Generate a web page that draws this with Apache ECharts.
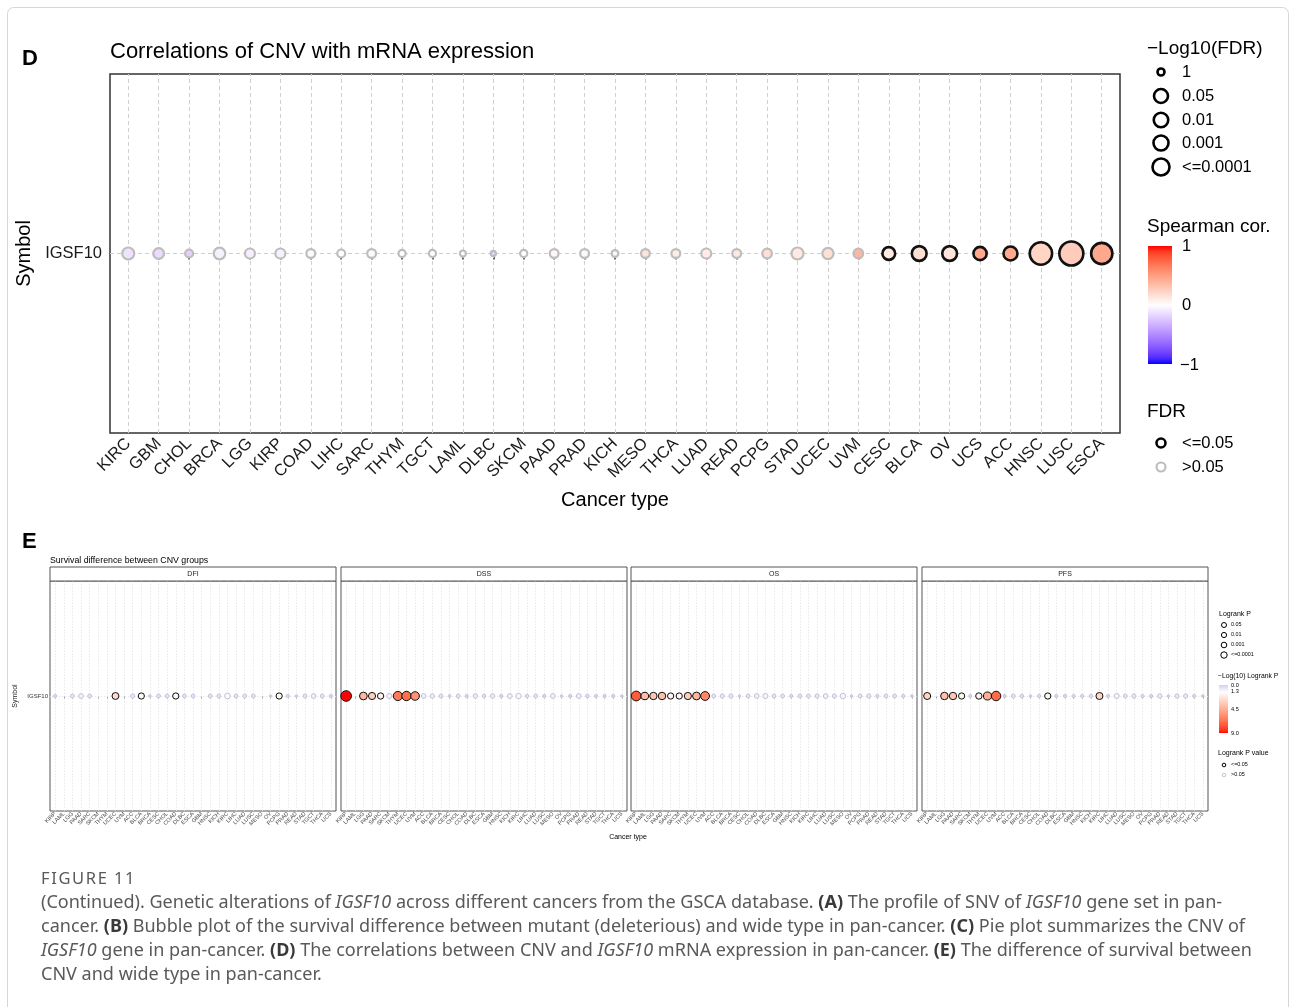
<!DOCTYPE html>
<html>
<head>
<meta charset="utf-8">
<script src="https://cdn.jsdelivr.net/npm/echarts@6/dist/echarts.min.js"></script>
<style>
  html, body { margin: 0; padding: 0; background: #fff; }
  #chart { width: 1296px; height: 1007px; }
</style>
</head>
<body>
<div id="chart"></div>
<script>
// ---------- Panel D: correlation of CNV with mRNA expression ----------
const corrCancers = ['KIRC','GBM','CHOL','BRCA','LGG','KIRP','COAD','LIHC','SARC','THYM','TGCT','LAML','DLBC','SKCM','PAAD','PRAD','KICH','MESO','THCA','LUAD','READ','PCPG','STAD','UCEC','UVM','CESC','BLCA','OV','UCS','ACC','HNSC','LUSC','ESCA'];
const spearmanCor = [-0.12,-0.15,-0.20,-0.06,-0.07,-0.06,-0.02,0.00,-0.02,0.00,0.01,0.00,-0.18,0.00,0.05,0.03,0.04,0.15,0.10,0.10,0.12,0.17,0.11,0.16,0.38,0.11,0.17,0.14,0.45,0.45,0.22,0.27,0.45];
const negLog10Fdr = [1.25,1.10,0.75,1.20,1.00,1.00,0.85,0.75,0.85,0.65,0.65,0.50,0.40,0.65,0.85,0.85,0.60,0.85,0.85,1.00,0.85,0.95,1.25,1.15,0.95,1.35,1.60,1.60,1.40,1.50,2.55,2.75,2.40];
const symbols = ['IGSF10'];
const fdrLegendLabels = ['1','0.05','0.01','0.001','<=0.0001'];

// ---------- Panel E: survival difference between CNV groups ----------
const survCancers = ['KIRP','LAML','LGG','PAAD','SARC','SKCM','THYM','UCEC','UVM','ACC','BLCA','BRCA','CESC','CHOL','COAD','DLBC','ESCA','GBM','HNSC','KICH','KIRC','LIHC','LUAD','LUSC','MESO','OV','PCPG','PRAD','READ','STAD','TGCT','THCA','UCS'];
const survFacets = ['DFI','DSS','OS','PFS'];
// -log10(logrank P); null where the cancer type has no data
const logrankDFI = [0.35,null,0.6,0.9,0.6,null,null,2.8,null,0.7,1.6,0.2,0.6,0.6,1.7,0.6,0.6,null,0.6,0.6,1.2,0.6,0.6,0.6,null,0.15,1.6,0.4,0.15,0.6,0.9,0.6,0.35];
const logrankDSS = [9.0,null,4.2,3.2,1.8,1.0,6.5,6.8,5.6,0.9,0.8,0.6,0.25,0.6,0.3,0.8,0.5,0.8,0.3,0.9,1.1,0.5,0.6,0.3,0.9,0.2,0.3,0.9,0.5,0.3,0.3,0.3,0.15];
const logrankOS  = [7.5,4.0,3.6,3.8,1.7,1.6,3.3,4.3,6.0,0.6,0.7,0.7,0.15,0.6,0.9,1.0,0.6,0.6,0.3,0.6,0.6,0.7,0.9,0.7,1.1,0.15,0.6,0.7,0.4,0.6,0.6,0.4,0.2];
const logrankPFS = [3.0,null,3.8,3.6,1.7,0.3,1.9,4.6,7.0,0.3,0.6,0.5,0.2,0.4,1.7,0.35,0.4,0.4,0.4,0.5,3.0,0.3,1.0,0.6,0.7,0.4,0.3,0.8,0.2,0.7,0.7,0.4,0.2];
const logrankBySurv = [logrankDFI, logrankDSS, logrankOS, logrankPFS];
const logrankLegendLabels = ['0.05','0.01','0.001','<=0.0001'];
const logrankBarTicks = [0, 1.3, 4.5, 9];

// ---------- colour scales interpolated in CIE Lab ----------
const WN = [0.95047, 1, 1.08883];
function toLin(c) { c /= 255; return c <= 0.04045 ? c / 12.92 : Math.pow((c + 0.055) / 1.055, 2.4); }
function toGam(c) { const v = c <= 0.0031308 ? 12.92 * c : 1.055 * Math.pow(c, 1 / 2.4) - 0.055; return Math.round(Math.max(0, Math.min(1, v)) * 255); }
function hexToLab(hex) {
  const n = parseInt(hex.slice(1), 16);
  const r = toLin(n >> 16 & 255), g = toLin(n >> 8 & 255), b = toLin(n & 255);
  const X = (0.4124564 * r + 0.3575761 * g + 0.1804375 * b) / WN[0];
  const Y = (0.2126729 * r + 0.7151522 * g + 0.0721750 * b) / WN[1];
  const Z = (0.0193339 * r + 0.1191920 * g + 0.9503041 * b) / WN[2];
  const f = t => t > 0.008856 ? Math.cbrt(t) : 7.787 * t + 16 / 116;
  const fx = f(X), fy = f(Y), fz = f(Z);
  return [116 * fy - 16, 500 * (fx - fy), 200 * (fy - fz)];
}
function labToHex(L, a, bb) {
  const fy = (L + 16) / 116, fx = fy + a / 500, fz = fy - bb / 200;
  const inv = t => t * t * t > 0.008856 ? t * t * t : (t - 16 / 116) / 7.787;
  const X = WN[0] * inv(fx), Y = WN[1] * inv(fy), Z = WN[2] * inv(fz);
  const r = 3.2404542 * X - 1.5371385 * Y - 0.4985314 * Z;
  const g = -0.9692660 * X + 1.8760108 * Y + 0.0415560 * Z;
  const b = 0.0556434 * X - 0.2040259 * Y + 1.0572252 * Z;
  return 'rgb(' + toGam(r) + ',' + toGam(g) + ',' + toGam(b) + ')';
}
function labScale(stops) {
  const labs = stops.map(s => [s[0], hexToLab(s[1])]);
  return function (v) {
    v = Math.max(labs[0][0], Math.min(labs[labs.length - 1][0], v));
    for (let k = 0; k < labs.length - 1; k++) {
      const [v0, c0] = labs[k], [v1, c1] = labs[k + 1];
      if (v <= v1) {
        const t = (v - v0) / (v1 - v0);
        return labToHex(c0[0] + (c1[0] - c0[0]) * t, c0[1] + (c1[1] - c0[1]) * t, c0[2] + (c1[2] - c0[2]) * t);
      }
    }
  };
}
const corColour = labScale([[-1, '#0000FF'], [0, '#FFFFFF'], [1, '#FF0000']]);
const logrankColour = labScale([[0, '#D4CCF0'], [1.3, '#FFFFFF'], [9, '#FF0000']]);

// symbol diameters
const corSize = x => 2 + 8 * x;
const logrankSize = x => 2 + 3.1 * Math.min(x, 1.3) + 0.6 * Math.max(x - 1.3, 0);

const AX_FONT = 'Liberation Sans';
const CAP_FONT = 'Noto Sans';
const SIG = -Math.log10(0.05);

// ---------- layout ----------
const gridD = { left: 110, top: 74, width: 1010, height: 359 };
const facetTop = 581, facetH = 230, facetW = 286;
const facetLeft = [50, 341, 631, 922];

const idxD = corrCancers.map((c, i) => i);
const idxE = survCancers.map((c, i) => i);

const grids = [Object.assign({ show: true, borderColor: '#333', borderWidth: 1.5, backgroundColor: '#fff', containLabel: false, outerBoundsMode: 'none' }, gridD)];
facetLeft.forEach(l => grids.push({ left: l, top: facetTop, width: facetW, height: facetH, show: true, borderColor: '#555', borderWidth: 1, backgroundColor: '#fff', containLabel: false, outerBoundsMode: 'none' }));

const xAxes = [{
  gridIndex: 0, type: 'value', min: -0.6, max: corrCancers.length - 0.4,
  axisLine: { show: false }, splitLine: { show: false },
  axisTick: { show: true, customValues: idxD, length: 6, lineStyle: { color: '#333', width: 1.5 } },
  axisLabel: { customValues: idxD, formatter: v => corrCancers[Math.round(v)], rotate: 45, fontSize: 16.5, fontFamily: AX_FONT, color: '#1a1a1a', margin: 8 },
  name: 'Cancer type', nameLocation: 'middle', nameGap: 57,
  nameTextStyle: { fontSize: 20, fontFamily: AX_FONT, color: '#000' }
}];
const yAxes = [{
  gridIndex: 0, type: 'value', min: -1, max: 1,
  axisLine: { show: false }, splitLine: { show: false },
  axisTick: { show: true, customValues: [0], length: 6, lineStyle: { color: '#333', width: 1.5 } },
  axisLabel: { customValues: [0], formatter: v => symbols[Math.round(v)], fontSize: 16.5, fontFamily: AX_FONT, color: '#1a1a1a', margin: 8 },
  name: 'Symbol', nameLocation: 'middle', nameGap: 68, nameRotate: 90,
  nameTextStyle: { fontSize: 20, fontFamily: AX_FONT, color: '#000' }
}];
survFacets.forEach((f, k) => {
  xAxes.push({
    gridIndex: k + 1, type: 'value', min: -0.6, max: survCancers.length - 0.4,
    axisLine: { show: false }, splitLine: { show: false },
    axisTick: { show: true, customValues: idxE, length: 2.5, lineStyle: { color: '#555', width: 0.6 } },
    axisLabel: { customValues: idxE, formatter: v => survCancers[Math.round(v)], rotate: 45, fontSize: 5.6, fontFamily: AX_FONT, color: '#4a4a4a', margin: 2 }
  });
  yAxes.push({
    gridIndex: k + 1, type: 'value', min: -1, max: 1,
    axisLine: { show: false }, splitLine: { show: false },
    axisTick: { show: k === 0, customValues: [0], length: 2.5, lineStyle: { color: '#555', width: 0.6 } },
    axisLabel: { show: k === 0, customValues: [0], formatter: v => symbols[Math.round(v)], fontSize: 6, fontFamily: AX_FONT, color: '#333', margin: 2 },
    name: k === 0 ? 'Symbol' : '', nameLocation: 'middle', nameGap: 31, nameRotate: 90,
    nameTextStyle: { fontSize: 7, fontFamily: AX_FONT, color: '#222' }
  });
});

const series = [{
  type: 'scatter', xAxisIndex: 0, yAxisIndex: 0, z: 3,
  data: corrCancers.map((c, i) => ({
    name: c,
    value: [i, 0, spearmanCor[i], negLog10Fdr[i]],
    symbolSize: corSize(negLog10Fdr[i]),
    itemStyle: {
      opacity: 1,
      color: corColour(spearmanCor[i]),
      borderColor: negLog10Fdr[i] >= SIG ? '#111' : '#bdbdbd',
      borderWidth: negLog10Fdr[i] >= SIG ? 2.6 : 2.2
    }
  })),
  markLine: {
    silent: true, symbol: 'none', z: 1, animation: false,
    label: { show: false }, emphasis: { disabled: true },
    lineStyle: { type: [4, 3], color: '#cfcfcf', width: 1 },
    data: idxD.map(i => ({ xAxis: i })).concat([{ yAxis: 0 }])
  }
}];
logrankBySurv.forEach((vals, k) => {
  const pts = [];
  vals.forEach((v, i) => {
    if (v === null) return;
    pts.push({
      name: survCancers[i],
      value: [i, 0, v],
      symbolSize: logrankSize(v),
      itemStyle: {
        opacity: 1,
        color: logrankColour(v),
        borderColor: v >= SIG ? '#111' : '#c6c1da',
        borderWidth: 1
      }
    });
  });
  series.push({
    type: 'scatter', xAxisIndex: k + 1, yAxisIndex: k + 1, z: 3, data: pts,
    markLine: {
      silent: true, symbol: 'none', z: 1, animation: false,
      label: { show: false }, emphasis: { disabled: true },
      lineStyle: { type: [1.5, 1.5], color: '#e3e3e3', width: 0.8 },
      data: idxE.map(i => ({ xAxis: i })).concat([{ yAxis: 0 }])
    }
  });
});

// ---------- legends, strips, titles and caption ----------
const g = [];
function txt(x, y, text, size, opt) {
  g.push(Object.assign({
    type: 'text', x: x, y: y, silent: true,
    style: Object.assign({ text: text, fontSize: size, fontFamily: AX_FONT, fill: '#000', align: 'left', verticalAlign: 'middle' }, opt || {})
  }));
}
function ring(cx, cy, d, stroke, lw, fill) {
  g.push({ type: 'circle', silent: true, shape: { cx: cx, cy: cy, r: d / 2 }, style: { fill: fill || 'none', stroke: stroke, lineWidth: lw } });
}

// outer frame
g.push({ type: 'rect', silent: true, shape: { x: 7.5, y: 7.5, width: 1281, height: 1100, r: 6 }, style: { fill: 'none', stroke: '#d6d6d6', lineWidth: 1 } });

// panel letters and titles
txt(22, 59, 'D', 22, { fontWeight: 'bold' });
txt(110, 52, 'Correlations of CNV with mRNA expression', 22);
txt(22, 542, 'E', 22, { fontWeight: 'bold' });
txt(50, 561, 'Survival difference between CNV groups', 8.8);
txt(628, 837, 'Cancer type', 7, { align: 'center' });

// panel D legends
txt(1147, 49, '\u2212Log10(FDR)', 19);
const fdrLegendDiam = [7, 14, 14.5, 15, 17];
const fdrLegendY = [72, 96, 120, 143, 167];
fdrLegendLabels.forEach((lab, i) => {
  ring(1161, fdrLegendY[i], fdrLegendDiam[i], '#000', 2.6);
  txt(1182, fdrLegendY[i], lab, 16.5);
});
txt(1147, 227, 'Spearman cor.', 19);
const corStops = [];
for (let v = 1; v >= -1.0001; v -= 0.1) corStops.push({ offset: (1 - v) / 2, color: corColour(v) });
g.push({ type: 'rect', silent: true, shape: { x: 1148, y: 246, width: 24, height: 118 }, style: { fill: new echarts.graphic.LinearGradient(0, 0, 0, 1, corStops) } });
txt(1182, 246, '1', 16.5);
txt(1182, 305, '0', 16.5);
txt(1180, 365, '\u22121', 16.5);
txt(1147, 412, 'FDR', 19);
ring(1161, 443, 9, '#000', 2.6);
txt(1182, 443, '<=0.05', 16.5);
ring(1161, 467, 9, '#bdbdbd', 2.2);
txt(1182, 467, '>0.05', 16.5);

// panel E facet strips
survFacets.forEach((f, k) => {
  g.push({ type: 'rect', silent: true, shape: { x: facetLeft[k], y: 567, width: facetW, height: 14 }, style: { fill: '#fff', stroke: '#555', lineWidth: 1 } });
  txt(facetLeft[k] + facetW / 2, 574, f, 7, { align: 'center', fill: '#1a1a1a' });
});

// panel E legends
txt(1219, 614, 'Logrank P', 7);
const lrLegendDiam = [5, 5.2, 5.6, 6.4];
const lrLegendY = [625, 635, 645, 655];
logrankLegendLabels.forEach((lab, i) => {
  ring(1224, lrLegendY[i], lrLegendDiam[i], '#000', 1);
  txt(1231, lrLegendY[i], lab, 5.4);
});
txt(1218, 676, '\u2212Log(10) Logrank P', 6.8);
const lrStops = [];
for (let v = 0; v <= 9.0001; v += 0.25) lrStops.push({ offset: v / 9, color: logrankColour(v) });
g.push({ type: 'rect', silent: true, shape: { x: 1219, y: 685, width: 9, height: 48 }, style: { fill: new echarts.graphic.LinearGradient(0, 0, 0, 1, lrStops) } });
logrankBarTicks.forEach(v => txt(1231, 685 + 48 * v / 9, v.toFixed(1), 5.6));
txt(1218, 753, 'Logrank P value', 7);
ring(1224, 765, 3.6, '#000', 1);
txt(1231, 765, '<=0.05', 5.4);
ring(1224, 775, 3.6, '#c6c1da', 1);
txt(1231, 775, '>0.05', 5.4);

// figure caption
const CAP = 18.05, CAPC = '#58595b';
const rich = {
  r: { fontSize: CAP, fontFamily: CAP_FONT, fill: CAPC },
  b: { fontSize: CAP, fontFamily: CAP_FONT, fill: '#3a3a3a', fontWeight: 'bold' },
  i: { fontSize: CAP, fontFamily: CAP_FONT, fill: CAPC, fontStyle: 'italic' }
};
txt(41, 879, 'F\u200aI\u200aG\u200aU\u200aR\u200aE\u2009 1\u200a1', 16.5, { fontFamily: CAP_FONT, fill: CAPC });
const captionLines = [
  '{r|(Continued). Genetic alterations of }{i|IGSF10}{r| across different cancers from the GSCA database. }{b|(A)}{r| The profile of SNV of }{i|IGSF10}{r| gene set in pan-}',
  '{r|cancer. }{b|(B)}{r| Bubble plot of the survival difference between mutant (deleterious) and wide type in pan-cancer. }{b|(C)}{r| Pie plot summarizes the CNV of}',
  '{i|IGSF10}{r| gene in pan-cancer. }{b|(D)}{r| The correlations between CNV and }{i|IGSF10}{r| mRNA expression in pan-cancer. }{b|(E)}{r| The difference of survival between}',
  '{r|CNV and wide type in pan-cancer.}'
];
captionLines.forEach((line, i) => {
  g.push({ type: 'text', x: 41, y: 903 + 24 * i, silent: true, style: { text: line, rich: rich, fontSize: CAP, fontFamily: CAP_FONT, fill: CAPC, align: 'left', verticalAlign: 'middle' } });
});

const chart = echarts.init(document.getElementById('chart'), null, { renderer: 'canvas', width: 1296, height: 1007 });
chart.setOption({
  backgroundColor: '#fff',
  animation: false,
  grid: grids,
  xAxis: xAxes,
  yAxis: yAxes,
  series: series,
  graphic: g
});
</script>
</body>
</html>
